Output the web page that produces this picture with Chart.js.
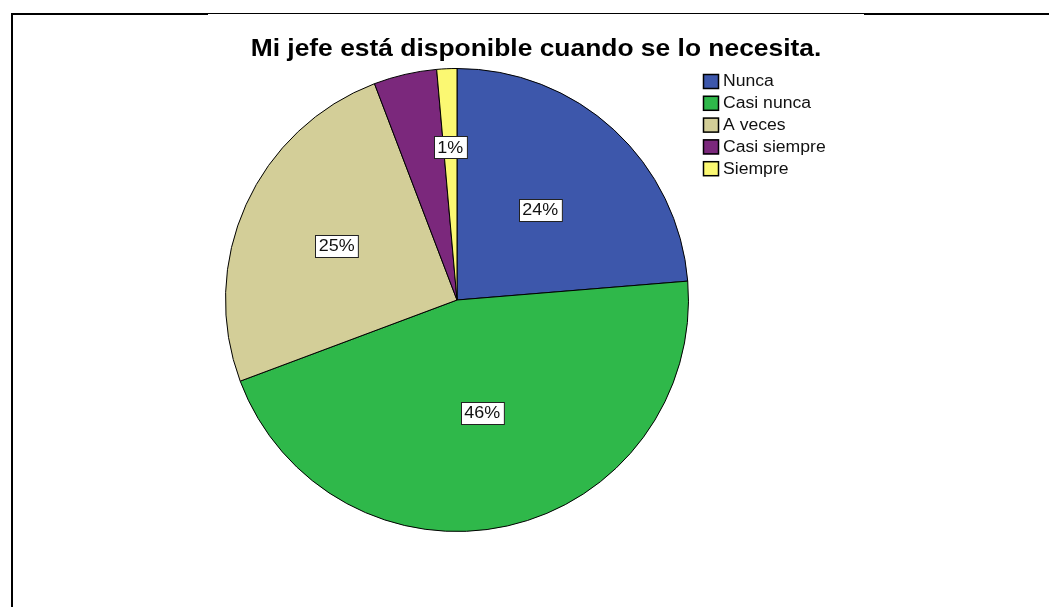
<!DOCTYPE html>
<html>
<head>
<meta charset="utf-8">
<script src="https://cdn.jsdelivr.net/npm/chart.js@4.4.1/dist/chart.umd.min.js"></script>
<style>
  html, body { margin: 0; padding: 0; background: #fff; }
  #wrap { width: 1049px; height: 607px; position: relative; }
</style>
</head>
<body>
<div id="wrap"><canvas id="pie"></canvas></div>
<script>
const titleText = "Mi jefe está disponible cuando se lo necesita.";
const categories = ["Nunca", "Casi nunca", "A veces", "Casi siempre", "Siempre"];
const percents = [23.7, 45.6, 24.9, 4.4, 1.4];
const shownLabels = ["24%", "46%", "25%", "", "1%"];
const sliceColors = ["#3d57ab", "#2fb84a", "#d3ce98", "#7b287c", "#fbf872"];

// where each label sits, as a fraction of the radius
const labelRadius = [0.53, 0.5, 0.57, 0.6, 0.66];

// text in the original looks a bit stretched sideways
function wideText(ctx, txt, x, y, sx){
    ctx.save();
    ctx.translate(x, y);
    ctx.scale(sx, 1);
    ctx.fillText(txt, 0, 0);
    ctx.restore();
}

// page frame + title + legend, drawn by hand
const decorPlugin = {
    id: "decor",
    beforeDraw(chart){
        const ctx = chart.ctx;
        ctx.save();
        ctx.fillStyle = "#fff";
        ctx.fillRect(0, 0, chart.width, chart.height);
        ctx.fillStyle = "#000";
        ctx.fillRect(11, 13, 2, chart.height - 13);
        ctx.fillRect(11, 13, 197, 2);
        ctx.fillRect(208, 13, 656, 1);
        ctx.fillRect(864, 13, chart.width - 864, 2);
        ctx.restore();
    },
    afterDraw(chart){
        const ctx = chart.ctx;
        ctx.save();
        // title
        ctx.fillStyle = "#000";
        ctx.font = "bold 24px 'Liberation Sans', Arial, sans-serif";
        ctx.textAlign = "center";
        ctx.textBaseline = "alphabetic";
        wideText(ctx, titleText, 536, 56, 1.1);

        // legend
        ctx.font = "16px 'Liberation Sans', Arial, sans-serif";
        ctx.textAlign = "left";
        ctx.textBaseline = "middle";
        const lx = 703, ly = 81, step = 21.8;
        categories.forEach((c, i) => {
            const y = ly + i * step;
            ctx.fillStyle = sliceColors[i];
            ctx.fillRect(lx, y - 7, 16, 15);
            ctx.strokeStyle = "#000";
            ctx.lineWidth = 1.5;
            ctx.strokeRect(lx + 0.5, y - 6.5, 15, 14);
            ctx.fillStyle = "#111";
            wideText(ctx, c, lx + 20, y + 1, 1.1);
        });

        // slice labels in white boxes
        const meta = chart.getDatasetMeta(0);
        ctx.font = "16px 'Liberation Sans', Arial, sans-serif";
        ctx.textAlign = "center";
        meta.data.forEach((arc, i) => {
            const txt = shownLabels[i];
            if(!txt) return;
            const p = arc.getProps(["x", "y", "startAngle", "endAngle", "outerRadius"], true);
            const mid = (p.startAngle + p.endAngle) / 2;
            const r = p.outerRadius * labelRadius[i];
            const cx = p.x + Math.cos(mid) * r;
            const cy = p.y + Math.sin(mid) * r;
            const w = ctx.measureText(txt).width * 1.12 + 7;
            const h = 22;
            const bx = Math.round(cx - w / 2) + 0.5;
            const by = Math.round(cy - h / 2) + 0.5;
            ctx.fillStyle = "#fff";
            ctx.fillRect(bx, by, w, h);
            ctx.strokeStyle = "#222";
            ctx.lineWidth = 1;
            ctx.strokeRect(bx, by, w, h);
            ctx.fillStyle = "#111";
            wideText(ctx, txt, cx, cy + 1, 1.12);
        });
        ctx.restore();
    }
};

const chart = new Chart(document.getElementById("pie"), {
    type: "pie",
    data: {
        labels: categories,
        datasets: [{
            data: percents,
            backgroundColor: sliceColors,
            borderColor: "#000",
            borderWidth: 1
        }]
    },
    options: {
        responsive: true,
        maintainAspectRatio: false,
        animation: false,
        layout: { padding: { left: 225, right: 360, top: 68, bottom: 75 } },
        plugins: {
            legend: { display: false },
            tooltip: { enabled: false },
            title: { display: false }
        }
    },
    plugins: [decorPlugin]
});
</script>
</body>
</html>
